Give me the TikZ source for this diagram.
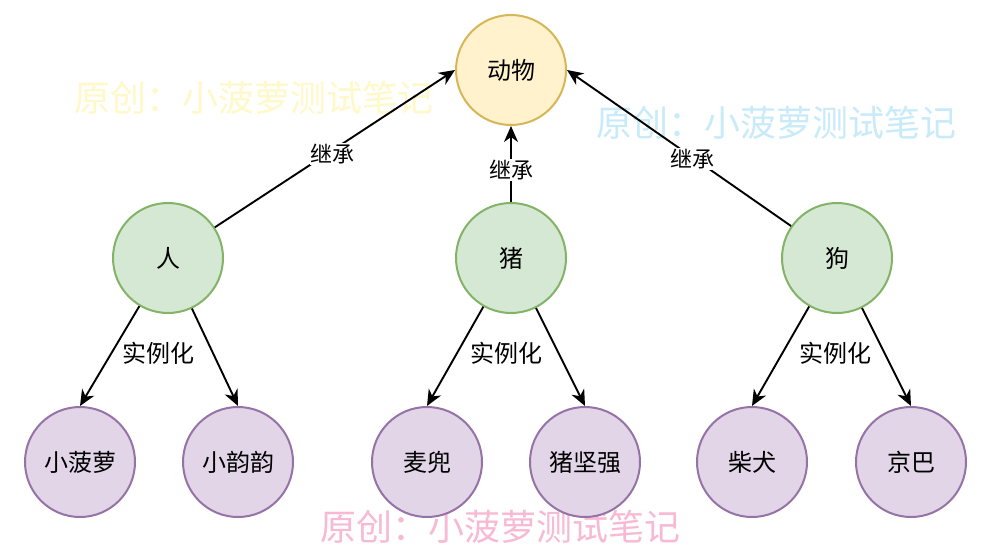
\documentclass[tikz,border=0pt]{standalone}
\usepackage{fontspec}
\setmainfont{Noto Sans CJK SC}
\usetikzlibrary{arrows.meta}
\definecolor{yfill}{HTML}{FFF2CC}
\definecolor{ystroke}{HTML}{D6B656}
\definecolor{gfill}{HTML}{D5E8D4}
\definecolor{gstroke}{HTML}{82B366}
\definecolor{pfill}{HTML}{E1D5E7}
\definecolor{pstroke}{HTML}{9673A6}
\definecolor{wmyellow}{RGB}{255,248,200}
\definecolor{wmblue}{RGB}{200,235,250}
\definecolor{wmpink}{RGB}{248,185,212}
\begin{document}
\begin{tikzpicture}[x=1pt,y=-1pt,
  circ/.style={circle,minimum size=110pt,inner sep=0pt,line width=2pt,font=\fontsize{24}{28}\selectfont},
  topnode/.style={circ,fill=yfill,draw=ystroke},
  midnode/.style={circ,fill=gfill,draw=gstroke},
  leafnode/.style={circ,fill=pfill,draw=pstroke},
  conn/.style={line width=1.9pt,-{Stealth[length=16pt,width=14pt,inset=5pt]}},
  elabel/.style={fill=white,inner sep=1pt,font=\fontsize{22}{26}\selectfont},
  inst/.style={inner sep=0pt,font=\fontsize{24}{28}\selectfont},
  wm/.style={inner sep=0pt,font=\fontsize{36}{40}\selectfont}
]
\useasboundingbox (0,0) rectangle (988,546);
\fill[white] (0,0) rectangle (988,546);

% watermarks
\node[wm,text=wmyellow] (wm1) at (254,98) {原创：小菠萝测试笔记};
\node[wm,text=wmblue] (wm2) at (776,123) {原创：小菠萝测试笔记};
\node[wm,text=wmpink] (wm3) at (500,527) {原创：小菠萝测试笔记};

% nodes
\node[topnode] (dw) at (511,70) {动物};
\node[midnode] (ren) at (168,258) {人};
\node[midnode] (zhu) at (511,258) {猪};
\node[midnode] (gou) at (837,258) {狗};
\node[leafnode] (xbl) at (80,462) {小菠萝};
\node[leafnode] (xyy) at (238,462) {小韵韵};
\node[leafnode] (md) at (427,462) {麦兜};
\node[leafnode] (zjq) at (585,462) {猪坚强};
\node[leafnode] (cq) at (752,462) {柴犬};
\node[leafnode] (jb) at (911,462) {京巴};

% inheritance
\draw[conn] (ren) -- node[elabel,pos=0.49,yshift=-4pt] (l1) {继承} (dw.west);
\draw[conn] (zhu) -- node[elabel,pos=0.42] (l2) {继承} (dw);
\draw[conn] (gou) -- node[elabel,pos=0.44,yshift=-2pt] (l3) {继承} (dw.east);

% instantiation
\draw[conn] (ren) -- (xbl.north);
\draw[conn] (ren) -- (xyy.north);
\draw[conn] (zhu) -- (md.north);
\draw[conn] (zhu) -- (zjq.north);
\draw[conn] (gou) -- (cq.north);
\draw[conn] (gou) -- (jb.north);

\node[inst] (i1) at (158,353) {实例化};
\node[inst] (i2) at (506,353) {实例化};
\node[inst] (i3) at (835,353) {实例化};
\end{tikzpicture}
\end{document}
